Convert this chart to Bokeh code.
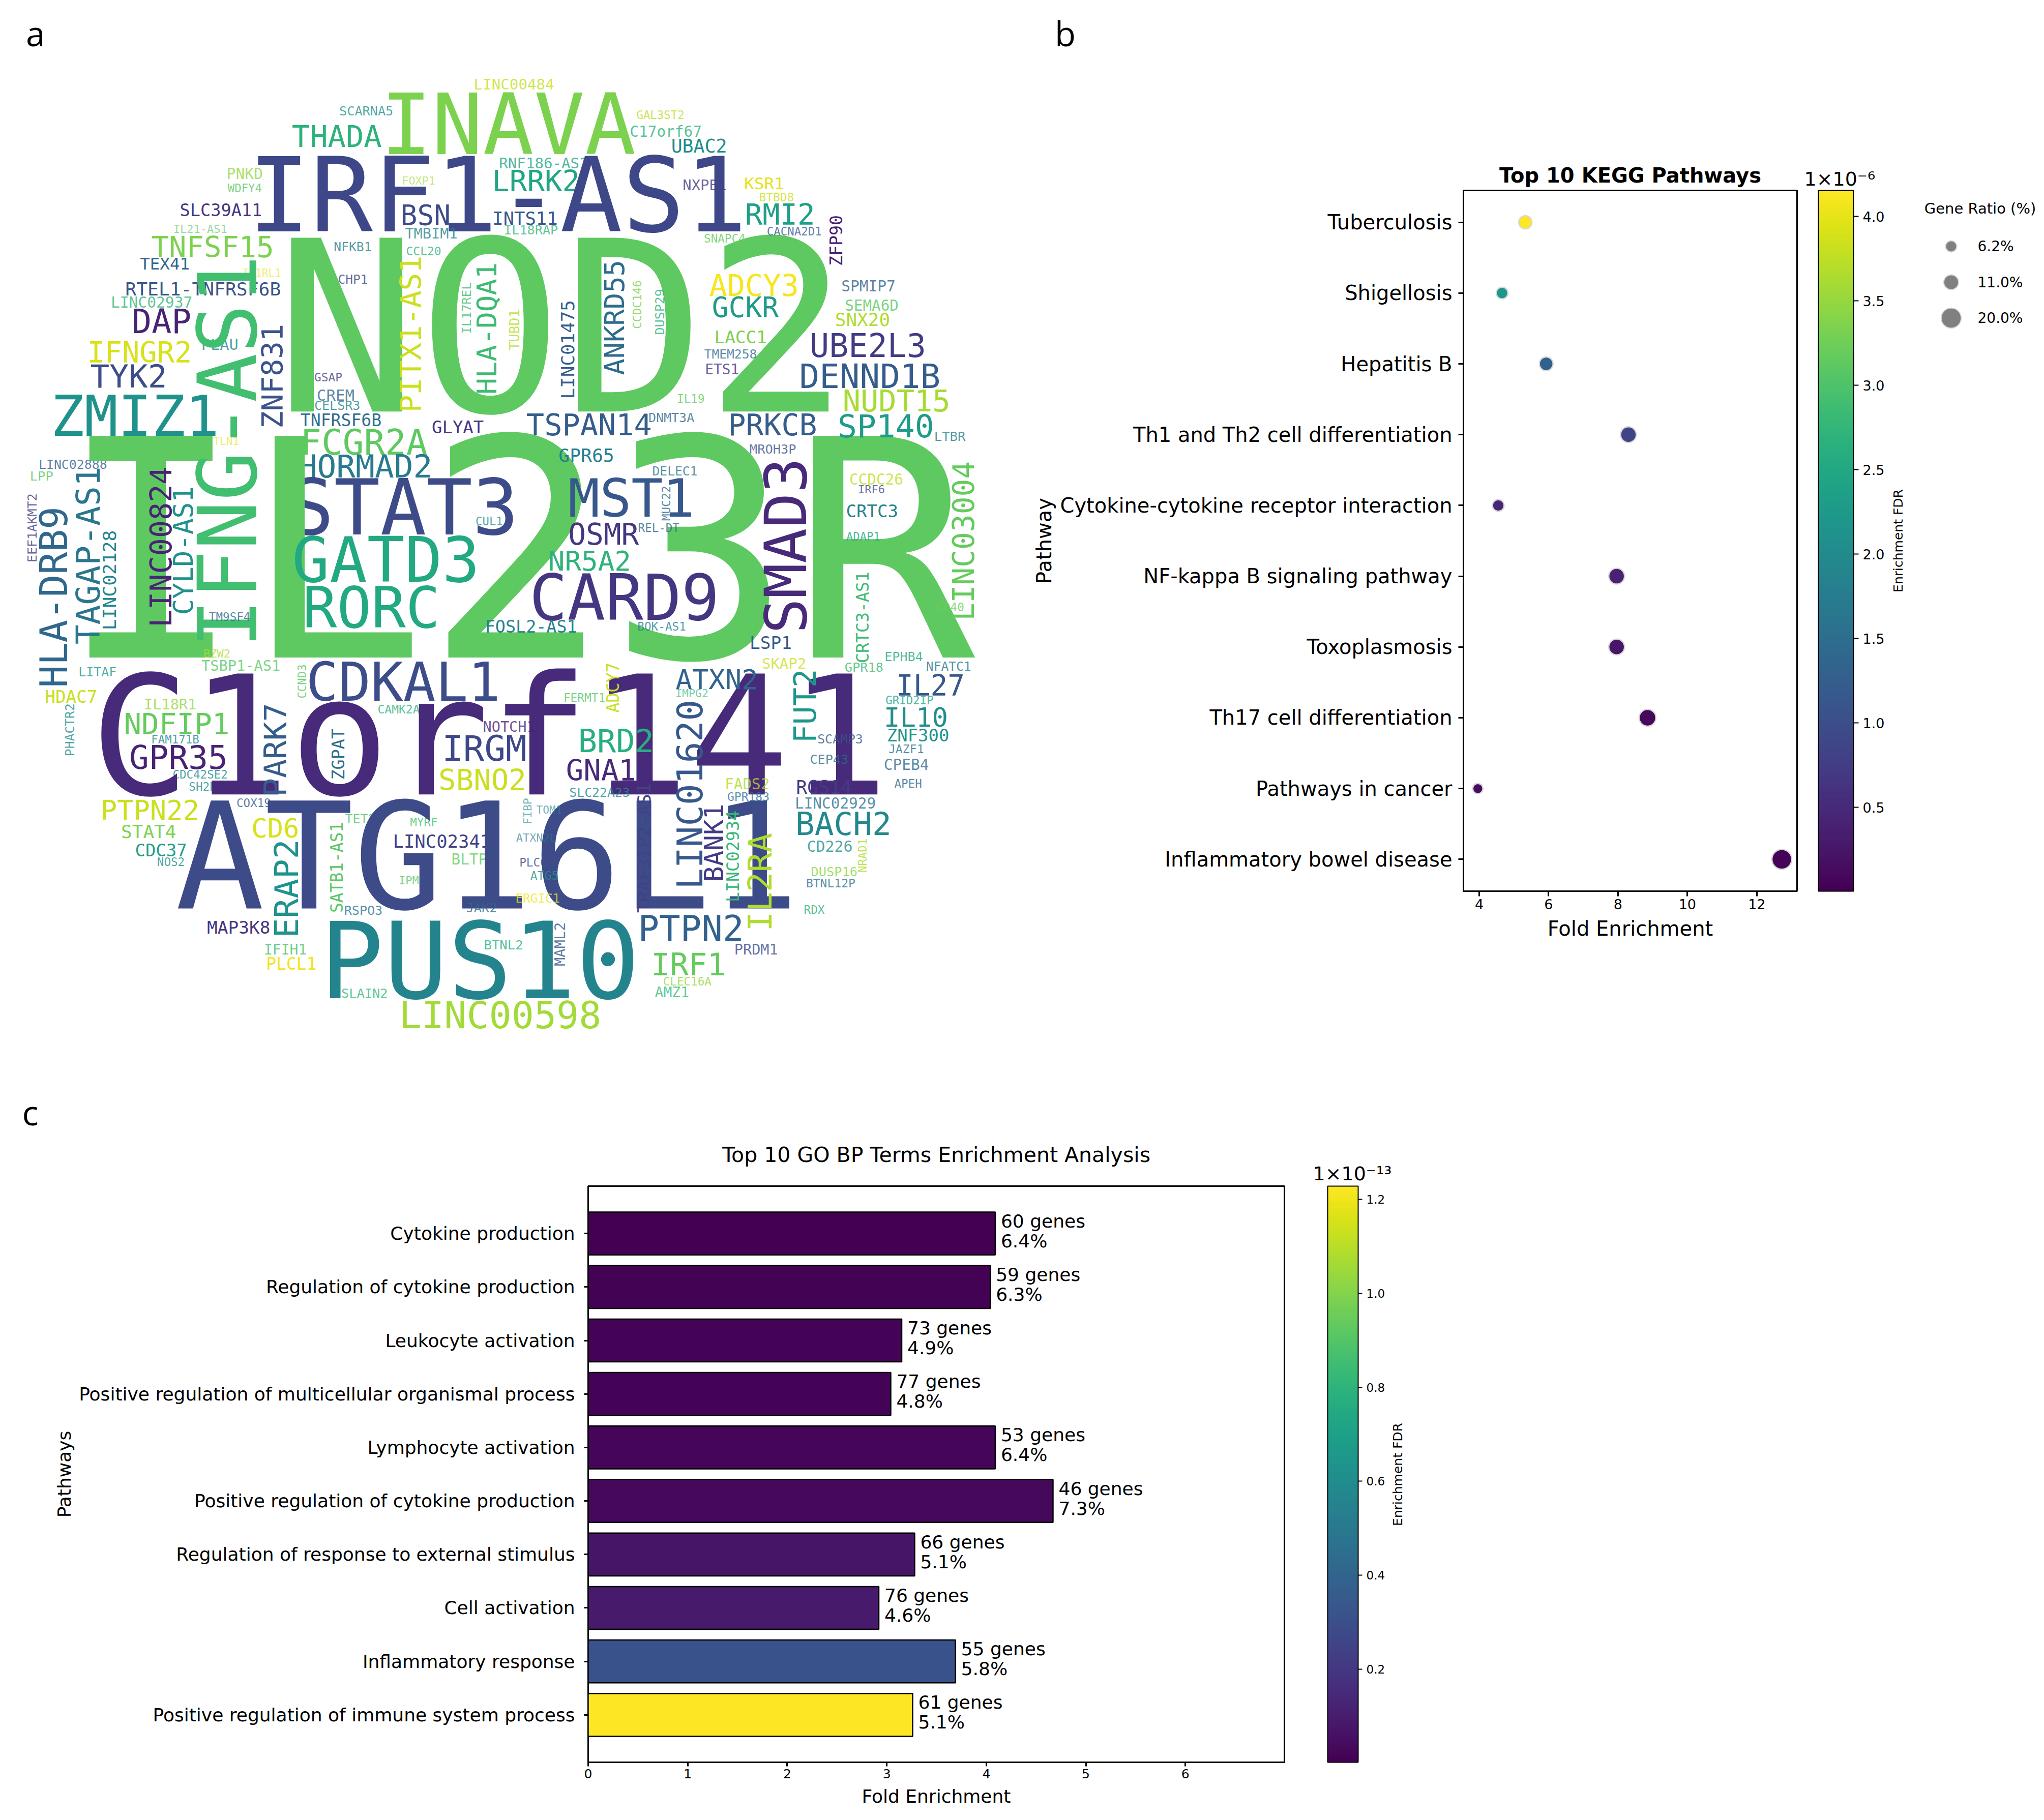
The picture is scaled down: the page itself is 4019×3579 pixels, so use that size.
from math import pi, sqrt
from bokeh.plotting import figure
from bokeh.layouts import column, row
from bokeh.models import (ColumnDataSource, Range1d, FactorRange, LinearColorMapper, ColorBar,
                          FixedTicker, Label, PrintfTickFormatter)
from bokeh.palettes import Viridis256
from bokeh.transform import transform
from bokeh.core.properties import value
from bokeh.embed import file_html
from bokeh.resources import INLINE

q1_words = ["LINC00484","SCARNA5","INAVA","THADA","RNF186-AS1","PNKD","WDFY4","FOXP1","LRRK2","IRF1-AS1","SLC39A11","BSN","INTS11","TMBIM1","IL21-AS1","IL18RAP","TNFSF15","NFKB1","CCL20","TEX41","IL1RL1","CHP1","RTEL1-TNFRSF6B","LINC02937","DAP","PLAU","IFNGR2","TYK2","GSAP","CREM","CELSR3","ZMIZ1","TNFRSF6B","GLYAT","ITLN1","FCGR2A","HORMAD2","LINC02888","LPP","STAT3","CUL1","NOD2","IL23R"]
q1_x0 = [1462,1047,1185,903,1540,700,703,1240,1520,778,556,1238,1520,1250,535,1555,470,1030,1253,433,748,1043,388,343,410,622,272,282,970,978,970,163,928,1333,638,930,922,120,93,897,1467,880,225]
q1_x1 = [1706,1210,1948,1172,1811,808,805,1340,1783,2288,805,1385,1716,1408,698,1718,840,1143,1358,582,865,1132,862,590,585,732,587,510,1053,1090,1108,667,1173,1488,735,1312,1328,328,162,1588,1548,2583,2963]
q1_yc = [103,185,224,262,345,378,422,400,400,442,490,505,515,562,548,552,604,603,616,655,684,703,734,775,833,904,928,1003,1005,1060,1092,1125,1138,1160,1203,1205,1280,1275,1310,1407,1450,849,1536]
q1_tone = [232,130,205,165,150,215,190,220,150,55,40,58,70,115,190,170,205,110,165,85,245,50,65,170,25,120,240,60,50,85,115,130,90,40,245,192,105,80,190,58,130,192,192]

q1v_words = ["IFNG-AS1","ZNF831","PITX1-AS1","HLA-DQA1","IL17REL","TUBD1","EEF1AKMT2","HLA-DRB9","TAGAP-AS1","LINC02128","LINC00824","CYLD-AS1"]
q1v_xm = [700,839,1266,1500,1439,1585,98,164,270,337,496,564]
q1v_top = [640,845,635,655,715,798,1365,1410,1285,1480,1285,1345]
q1v_bot = [1830,1160,1110,1055,870,920,1575,1958,1825,1783,1773,1735]
q1v_tone = [178,65,235,175,175,228,45,85,100,115,25,130]

q2_words = ["GAL3ST2","C17orf67","UBAC2","NXPE1","KSR1","BTBD8","RMI2","CACNA2D1","SNAPC4","ADCY3","SPMIP7","GCKR","SEMA6D","SNX20","LACC1","UBE2L3","TMEM258","ETS1","DENND1B","IL19","NUDT15","TSPAN14","DNMT3A","PRKCB","SP140","LTBR","MROH3P","GPR65","DELEC1","CCDC26","IRF6","MST1","CRTC3","REL-DT","ADAP1","OSMR"]
q2_x0 = [395,375,503,538,728,773,732,797,603,622,1027,630,1038,1008,636,932,604,607,900,520,1033,58,432,680,1018,1313,744,156,444,1052,1078,190,1042,400,1042,187]
q2_x1 = [540,593,670,670,846,878,940,963,728,890,1190,828,1200,1173,793,1282,763,708,1326,602,1357,437,570,946,1307,1406,884,322,580,1214,1158,565,1198,524,1143,397]
q2_yc = [197,248,292,412,408,450,503,555,577,723,724,788,784,828,882,908,934,981,1002,1071,1079,1153,1130,1153,1155,1187,1226,1246,1295,1320,1352,1377,1417,1470,1496,1490]
q2_tone = [230,165,125,45,245,235,145,70,195,252,80,140,190,225,205,45,90,40,75,195,222,75,85,75,140,110,65,110,100,230,60,70,115,85,150,40]

q2v_words = ["ZFP90","ANKRD55","CCDC146","DUSP29","LINC01475","MUC22","SMAD3","LINC03004"]
q2v_xm = [1010,325,396,465,182,485,852,1402]
q2v_top = [508,648,708,735,770,1342,1262,1268]
q2v_bot = [660,995,855,873,1070,1447,1788,1752]
q2v_tone = [20,90,205,165,75,90,30,195]

q3_words = ["GATD3","RORC","TM9SF4","BZW2","TSBP1-AS1","LITAF","CDKAL1","HDAC7","IL18R1","CAMK2A","NDFIP1","FAM171B","GPR35","CDC42SE2","SH2B3","IRGM","SBNO2","C1orf141","COX19","PTPN22","TET2","MYRF","CD6","STAT4","LINC02341","CDC37","BLTP1","NOS2","IPMK","ATG16L1","JAK2","RSPO3","MAP3K8","PUS10","BTNL2","IFIH1","PLCL1","SLAIN2","LINC00598"]
q3_x0 = [908,940,645,628,622,243,950,140,445,1165,385,467,402,533,583,1367,1355,300,730,313,1065,1265,778,375,1213,418,1393,485,1230,560,1438,1062,640,1000,1493,815,822,1053,1235]
q3_x1 = [1470,1348,770,708,862,357,1535,297,603,1292,703,612,697,700,687,1618,1618,2716,833,610,1155,1347,918,540,1510,573,1527,567,1310,2443,1530,1177,830,1958,1610,943,973,1193,1848]
q3_yc = [78,225,255,368,405,425,455,500,524,540,585,633,688,740,778,660,758,620,828,850,877,888,907,917,947,975,1003,1010,1068,992,1152,1160,1213,1314,1265,1280,1325,1415,1482]
q3_tone = [155,155,85,225,190,135,60,235,215,165,195,120,25,125,125,55,235,30,75,235,185,180,240,205,50,145,195,130,190,58,85,100,40,115,160,180,250,170,220]

q3v_words = ["CCND3","PHACTR2","PARK7","ZGPAT","ERAP2","SATB1-AS1"]
q3v_xm = [931,214,848,1042,881,1037]
q3v_top = [403,523,525,602,945,890]
q3v_bot = [505,683,805,755,1240,1165]
q3v_tone = [190,125,75,90,130,190]

q4_words = ["NR5A2","CARD9","FOSL2-AS1","BOK-AS1","CD40","LSP1","EPHB4","SKAP2","NFATC1","GPR18","ATXN2","IL27","IMPG2","FERMT1","GRID2IP","IL10","NOTCH1","ZNF300","SCAMP3","BRD2","JAZF1","CEP43","CPEB4","GNA12","APEH","FADS2","RGS14","SLC22A23","GPR183","LINC02929","TOM1","BACH2","ATXN2L","CD226","PLCG2","DUSP16","ATG5","BTNL12P","ERGIC1","RDX","PTPN2","PRDM1","IRF1","CLEC16A","AMZ1"]
q4_x0 = [125,72,-71,398,1320,745,1160,782,1288,1037,518,1198,515,170,1163,1160,-78,1168,953,218,1172,930,1158,180,1190,668,888,188,675,884,86,888,24,921,34,933,68,918,22,911,403,697,443,477,452]
q4_x1 = [373,640,208,545,1402,870,1275,915,1424,1153,765,1402,614,296,1308,1350,80,1355,1090,443,1278,1045,1293,443,1272,802,1055,372,802,1130,163,1175,145,1058,138,1073,152,1067,156,972,720,828,665,623,554]
q4_yc = [82,195,285,285,224,335,378,398,407,410,447,467,490,503,512,563,593,620,632,638,662,694,710,728,768,770,780,796,810,830,849,893,936,963,1012,1040,1053,1076,1123,1158,1215,1280,1325,1378,1413]
q4_tone = [165,40,115,110,200,70,155,235,100,175,80,70,160,190,150,125,25,130,70,160,100,90,90,30,85,225,45,125,95,95,115,120,100,130,60,210,130,95,250,165,80,55,195,215,175]

q4v_words = ["CRTC3-AS1","ADCY7","FUT2","LINC01620","TRAF3IP2-AS1","BANK1","LINC02934","IL2RA","FIBP","NRAD1","MAML2"]
q4v_xm = [1091,321,913,558,416,632,691,773,57,1090,157]
q4v_top = [118,398,420,515,770,835,855,925,815,940,1198]
q4v_bot = [395,548,640,1090,1165,1068,1132,1220,893,1042,1330]
q4v_tone = [175,235,135,70,50,45,170,225,120,225,70]

# ---- KEGG pathways
kegg_terms = ["Tuberculosis","Shigellosis","Hepatitis B","Th1 and Th2 cell differentiation","Cytokine-cytokine receptor interaction","NF-kappa B signaling pathway","Toxoplasmosis","Th17 cell differentiation","Pathways in cancer","Inflammatory bowel disease"]
kegg_fold = [5.33,4.66,5.93,8.30,4.55,7.96,7.96,8.85,3.96,12.72]
kegg_fdr = [4.15,2.2,1.3,0.85,0.45,0.4,0.25,0.1,0.15,0.05]
kegg_ratio = [8.7,6.8,9.4,12.4,6.8,12.4,12.4,14.0,5.2,19.6]
ratio_legend = [6.2,11.0,20.0]

# ---- GO BP terms
go_terms = ["Cytokine production","Regulation of cytokine production","Leukocyte activation","Positive regulation of multicellular organismal process","Lymphocyte activation","Positive regulation of cytokine production","Regulation of response to external stimulus","Cell activation","Inflammatory response","Positive regulation of immune system process"]
go_fold = [4.09,4.04,3.15,3.04,4.09,4.67,3.28,2.92,3.69,3.26]
go_fdr = [0.005,0.008,0.012,0.015,0.025,0.03,0.07,0.09,0.31,1.228]
go_genes = [60,59,73,77,53,46,66,76,55,61]
go_pct = [6.4,6.3,4.9,4.8,6.4,7.3,5.1,4.6,5.8,5.1]

# ---- page notes: panel letters, colour bar captions and multipliers
note_text = ["b", "c", "1×10⁻⁶", "1×10⁻¹³", "Enrichment FDR", "Enrichment FDR"]
note_x = [2094, 59, 3547, 2581, 3732, 2748]
note_y = [64, 2186, 351, 2307, 1063, 2899]
note_size = ["67px", "67px", "38px", "38px", "25px", "25px"]
note_angle = [0, 0, 0, 0, pi / 2, pi / 2]
note_align = ["center", "center", "left", "left", "center", "center"]
note_font = ["Open Sans", "Open Sans", "DejaVu Sans", "DejaVu Sans", "DejaVu Sans", "DejaVu Sans"]

FONT = "DejaVu Sans"
ZOOM = 1.568
ADV = 0.602
CAP = 0.01
BEAR = 0.045


def paleness(fs):
    return 0.65 if fs < 22 else (0.8 if fs < 32 else 1.0)


def horizontal(words, x0, x1, yc, tone, ox, oy):
    assert len(words) == len(x0) == len(x1) == len(yc) == len(tone), words[0]
    d = dict(x=[], y=[], t=[], fs=[], c=[], a=[], o=[])
    for w, a, b, m, k in zip(words, x0, x1, yc, tone):
        fs = (b - a) / (len(w) * ADV - 2 * BEAR) / ZOOM
        d["x"].append(ox + a / ZOOM - BEAR * fs)
        d["y"].append(oy + m / ZOOM + CAP * fs)
        d["t"].append(w)
        d["fs"].append(f"{fs:.1f}px")
        d["c"].append(Viridis256[k])
        d["a"].append(0)
        d["o"].append(paleness(fs))
    return d


def vertical(words, xm, top, bot, tone, ox, oy):
    assert len(words) == len(xm) == len(top) == len(bot) == len(tone), words[0]
    d = dict(x=[], y=[], t=[], fs=[], c=[], a=[], o=[])
    for w, m, a, b, k in zip(words, xm, top, bot, tone):
        fs = (b - a) / (len(w) * ADV - 2 * BEAR) / ZOOM
        d["x"].append(ox + m / ZOOM + CAP * fs)
        d["y"].append(oy + b / ZOOM + BEAR * fs)
        d["t"].append(w)
        d["fs"].append(f"{fs:.1f}px")
        d["c"].append(Viridis256[k])
        d["a"].append(pi / 2)
        d["o"].append(paleness(fs))
    return d


# ---- panel a
fig_a = figure(width=2012, height=2112, x_range=Range1d(8, 2020), y_range=Range1d(2120, 8),
               output_backend="svg", toolbar_location=None, min_border=0, frame_align=False,
               x_axis_location=None, y_axis_location=None, outline_line_color=None)
fig_a.grid.visible = False
parts = [
    horizontal(q1_words, q1_x0, q1_x1, q1_yc, q1_tone, 0, 100),
    vertical(q1v_words, q1v_xm, q1v_top, q1v_bot, q1v_tone, 0, 100),
    horizontal(q2_words, q2_x0, q2_x1, q2_yc, q2_tone, 1000, 100),
    vertical(q2v_words, q2v_xm, q2v_top, q2v_bot, q2v_tone, 1000, 100),
    horizontal(q3_words, q3_x0, q3_x1, q3_yc, q3_tone, 0, 1050),
    vertical(q3v_words, q3v_xm, q3v_top, q3v_bot, q3v_tone, 0, 1050),
    horizontal(q4_words, q4_x0, q4_x1, q4_yc, q4_tone, 1000, 1050),
    vertical(q4v_words, q4v_xm, q4v_top, q4v_bot, q4v_tone, 1000, 1050),
]
for d in parts:
    fig_a.text(x="x", y="y", text="t", angle="a", text_font_size="fs", text_color="c", text_alpha="o",
               text_font=value("DejaVu Sans Mono"), text_align="left", text_baseline="alphabetic",
               source=ColumnDataSource(d))
fig_a.add_layout(Label(x=69 - 8, y=2112 - (64 - 8), x_units="screen", y_units="screen", text="a",
                       text_font="Open Sans", text_font_size="67px", text_color="black",
                       text_align="center", text_baseline="middle"))


def style_axes(p, tick_y, tick_x, lab_y, lab_x, tick_len, standoff):
    p.grid.visible = False
    p.outline_line_color = "black"
    p.outline_line_width = 3
    p.axis.axis_line_color = None
    p.axis.minor_tick_line_color = None
    p.axis.major_tick_line_color = "black"
    p.axis.major_tick_line_width = 3
    p.axis.major_tick_out = tick_len
    p.axis.major_tick_in = 0
    p.axis.major_label_text_color = "black"
    p.axis.major_label_text_font = FONT
    p.axis.axis_label_text_font = FONT
    p.axis.axis_label_text_color = "black"
    p.axis.axis_label_text_font_style = "normal"
    p.yaxis.major_label_text_font_size = tick_y
    p.xaxis.major_label_text_font_size = tick_x
    p.yaxis.axis_label_text_font_size = lab_y
    p.xaxis.axis_label_text_font_size = lab_x
    p.yaxis.major_label_standoff = standoff
    p.xaxis.axis_label_standoff = 12


# ---- panel b
map_b = LinearColorMapper(palette=Viridis256, low=0.003, high=4.155)
src_b = ColumnDataSource(dict(term=kegg_terms, fold=kegg_fold, fdr=kegg_fdr,
                              size=[8.8 * sqrt(r) for r in kegg_ratio]))
fig_b = figure(frame_width=656, frame_height=1378, x_range=Range1d(3.546, 13.16),
               y_range=FactorRange(factors=kegg_terms[::-1], range_padding=-0.05, range_padding_units="absolute"),
               output_backend="svg", toolbar_location=None, frame_align=False,
               min_border_left=857, min_border_right=227, min_border_top=366, min_border_bottom=368,
               x_axis_label="Fold Enrichment", y_axis_label="Pathway",
               title="Top 10 KEGG Pathways")
fig_b.title.align = "center"
fig_b.title.text_font = FONT
fig_b.title.text_font_size = "40px"
fig_b.title.text_font_style = "bold"
fig_b.title.text_color = "black"
fig_b.title.standoff = 13
fig_b.scatter(x="fold", y="term", size="size", source=src_b, fill_color=transform("fdr", map_b),
              line_color="#d8d8d8", line_width=2.5)
style_axes(fig_b, "40px", "27px", "40px", "40px", 10, 12)
fig_b.xaxis.ticker = FixedTicker(ticks=[4, 6, 8, 10, 12])
cb_b = ColorBar(color_mapper=map_b, width=69, height=1378, padding=0, margin=0, location=(698, 0),
                ticker=FixedTicker(ticks=[0.5, 1.0, 1.5, 2.0, 2.5, 3.0, 3.5, 4.0]),
                formatter=PrintfTickFormatter(format="%.1f"),
                major_label_text_font=FONT, major_label_text_font_size="27px", major_label_text_color="black",
                major_tick_line_color="black", major_tick_line_width=2, major_tick_out=10, major_tick_in=0,
                minor_tick_line_color=None, bar_line_color="black", bar_line_width=2, label_standoff=8)
fig_b.add_layout(cb_b)

# ---- gene ratio key
fig_k = figure(width=251, height=2112, x_range=Range1d(0, 251), y_range=Range1d(23.2, -6.75),
               output_backend="svg", toolbar_location=None, min_border=0, frame_align=False,
               x_axis_location=None, y_axis_location=None, outline_line_color=None)
fig_k.grid.visible = False
rows_k = list(range(len(ratio_legend)))
src_k = ColumnDataSource(dict(x=[76] * 3, y=rows_k, size=[8.8 * sqrt(r) for r in ratio_legend],
                              label=[f"{r:.1f}%" for r in ratio_legend]))
fig_k.scatter(x="x", y="y", size="size", source=src_k, fill_color="#808080", line_color="#d8d8d8", line_width=2)
fig_k.text(x=128, y="y", text="label", source=src_k, text_font=value(FONT), text_font_size="28px",
           text_color="black", text_baseline="middle")
fig_k.text(x=[133], y=[-1.05], text=["Gene Ratio (%)"], text_font=value(FONT), text_font_size="29px",
           text_color="black", text_align="center", text_baseline="middle")

# ---- panel c
map_c = LinearColorMapper(palette=Viridis256, low=0.002, high=1.228)
src_c = ColumnDataSource(dict(term=go_terms, fold=go_fold, fdr=go_fdr,
                              genes=[f"{g} genes" for g in go_genes], pct=[f"{p}%" for p in go_pct]))
fig_c = figure(frame_width=1369, frame_height=1133, x_range=Range1d(0, 6.995),
               y_range=FactorRange(factors=go_terms[::-1], range_padding=0.385, range_padding_units="absolute"),
               output_backend="svg", toolbar_location=None, frame_align=False,
               min_border_left=1148, min_border_right=1486, min_border_top=212, min_border_bottom=106,
               x_axis_label="Fold Enrichment", y_axis_label="Pathways",
               title="Top 10 GO BP Terms Enrichment Analysis")
fig_c.title.align = "center"
fig_c.title.text_font = FONT
fig_c.title.text_font_size = "41px"
fig_c.title.text_font_style = "normal"
fig_c.title.text_color = "black"
fig_c.title.standoff = 75
fig_c.hbar(y="term", right="fold", left=0, height=0.8, source=src_c, fill_color=transform("fdr", map_c),
           line_color="black", line_width=2.5)
fig_c.text(x="fold", y="term", text="genes", source=src_c, x_offset=11, y_offset=-24.5,
           text_font=value(FONT), text_font_size="36px", text_color="black", text_baseline="middle")
fig_c.text(x="fold", y="term", text="pct", source=src_c, x_offset=11, y_offset=14.5,
           text_font=value(FONT), text_font_size="36px", text_color="black", text_baseline="middle")
style_axes(fig_c, "36px", "25px", "36px", "36px", 8, 18)
fig_c.xaxis.ticker = FixedTicker(ticks=[0, 1, 2, 3, 4, 5, 6])
cb_c = ColorBar(color_mapper=map_c, width=60, height=1133, padding=0, margin=0, location=(1454, 0),
                ticker=FixedTicker(ticks=[0.2, 0.4, 0.6, 0.8, 1.0, 1.2]),
                formatter=PrintfTickFormatter(format="%.1f"),
                major_label_text_font=FONT, major_label_text_font_size="23px", major_label_text_color="black",
                major_tick_line_color="black", major_tick_line_width=2, major_tick_out=8, major_tick_in=0,
                minor_tick_line_color=None, bar_line_color="black", bar_line_width=2, label_standoff=8)
fig_c.add_layout(cb_c)

# ---- transparent sheet over the page for the notes that lie outside the plot frames
fig_n = figure(width=4003, height=3563, x_range=Range1d(8, 4011), y_range=Range1d(3571, 8),
               output_backend="svg", toolbar_location=None, min_border=0, frame_align=False,
               x_axis_location=None, y_axis_location=None, outline_line_color=None,
               background_fill_alpha=0, border_fill_alpha=0,
               styles={"position": "absolute", "left": "0px", "top": "0px", "pointer-events": "none"})
fig_n.grid.visible = False
fig_n.text(x="x", y="y", text="t", angle="a", text_font_size="s", text_align="al", text_font="f",
           text_color="black", text_baseline="middle",
           source=ColumnDataSource(dict(x=note_x, y=note_y, t=note_text, a=note_angle, s=note_size,
                                        al=note_align, f=note_font)))

page = column(row(fig_a, fig_b, fig_k, spacing=0), fig_c, fig_n, spacing=0, margin=(8, 0, 0, 8))
open("out.html", "w").write(file_html(page, INLINE))
